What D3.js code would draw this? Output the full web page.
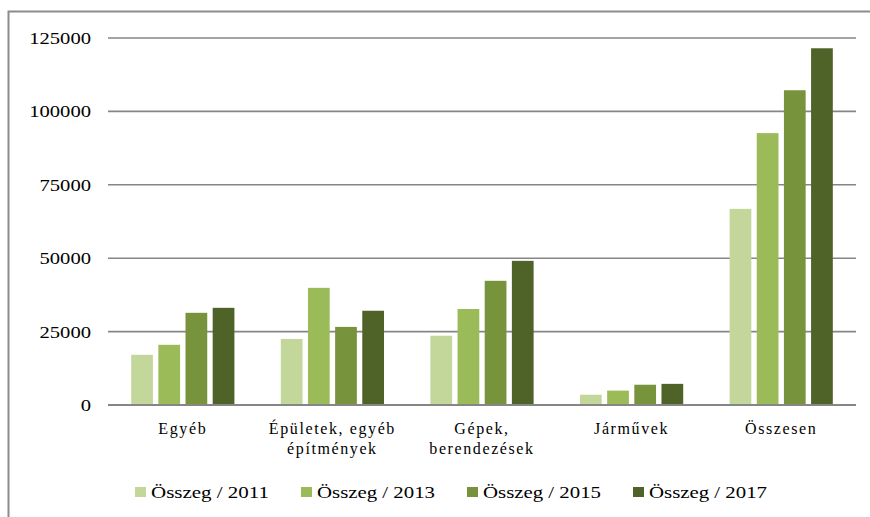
<!DOCTYPE html>
<html>
<head>
    <meta charset="UTF-8">
    <title>Összeg</title>
    <script src="https://d3js.org/d3.v7.min.js"></script>
    <style type="text/css">
        body { margin: 0; background: #fff; }
    </style>
</head>
<body>
    <svg id="chart"></svg>

    <script>
        // data
        const categories = ["Egyéb", "Épületek, egyéb építmények", "Gépek, berendezések", "Járművek", "Összesen"];
        // labels are wrapped over two lines like in the original
        const category_lines = [["Egyéb"], ["Épületek, egyéb", "építmények"], ["Gépek,", "berendezések"], ["Járművek"], ["Összesen"]];
        const series = ["Összeg / 2011", "Összeg / 2013", "Összeg / 2015", "Összeg / 2017"];
        const values_2011 = [17100, 22500, 23600, 3500, 66800];
        const values_2013 = [20500, 39900, 32700, 4900, 92600];
        const values_2015 = [31400, 26600, 42300, 6900, 107200];
        const values_2017 = [33100, 32100, 49100, 7200, 121500];
        const y_ticks = [0, 25000, 50000, 75000, 100000, 125000];
        const colors = ["#c4d79b", "#9bbb59", "#77933c", "#4f6228"];

        const all_values = [values_2011, values_2013, values_2015, values_2017];

        const WIDTH = 870;
        const HEIGHT = 517;
        const FONT = "'Liberation Serif', 'DejaVu Serif', 'Times New Roman', serif";
        const margins = {top: 38, bottom: 112, left: 108, right: 14};

        const svg = d3.select("#chart")
            .attr("width", WIDTH)
            .attr("height", HEIGHT)
            .attr("font-family", FONT);

        // outer frame (only left and top edges are in the picture)
        svg.append("path")
            .attr("d", `M8.5,${HEIGHT} L8.5,11.5 L${WIDTH},11.5`)
            .style("fill", "none")
            .style("stroke", "#8c8c8c")
            .style("stroke-width", 2);

        const x0 = d3.scaleBand()
            .domain(categories)
            .range([margins.left, WIDTH - margins.right])
            .paddingInner(0.31)
            .paddingOuter(0.155);

        const x1 = d3.scaleBand()
            .domain(series)
            .range([0, x0.bandwidth()])
            .paddingInner(0.2);

        const y = d3.scaleLinear()
            .domain([0, 125000])
            .range([HEIGHT - margins.bottom, margins.top]);

        //---------grid lines-----------
        svg.append("g")
            .selectAll("line")
            .data(y_ticks)
            .enter().append("line")
            .attr("x1", margins.left)
            .attr("x2", WIDTH - margins.right)
            .attr("y1", (d) => y(d))
            .attr("y2", (d) => y(d))
            .style("stroke", "#868686")
            .style("stroke-width", (d) => d == 0 ? 2.2 : 1.6);

        // tick labels
        svg.append("g")
            .selectAll("text")
            .data(y_ticks)
            .enter().append("text")
            .attr("x", 91)
            .attr("y", (d) => y(d) + 6)
            .attr("font-family", FONT)
            .style("text-anchor", "end")
            .style("font-size", "17px")
            .attr("textLength", (d) => String(d).length * 10.3)
            .attr("lengthAdjust", "spacingAndGlyphs")
            .text((d) => d);

        //---------bars-----------
        const groups = svg.append("g")
            .selectAll("g")
            .data(categories)
            .enter().append("g")
            .attr("transform", (d) => `translate(${x0(d)},0)`);

        groups.selectAll("rect")
            .data((d, i) => series.map((s, j) => ({s: s, j: j, v: all_values[j][i]})))
            .enter().append("rect")
            .attr("x", (d) => x1(d.s))
            .attr("y", (d) => y(d.v))
            .attr("width", x1.bandwidth())
            .attr("height", (d) => y(0) - y(d.v))
            .style("fill", (d) => colors[d.j]);

        // redraw baseline over the bars
        svg.append("line")
            .attr("x1", margins.left)
            .attr("x2", WIDTH - margins.right)
            .attr("y1", y(0))
            .attr("y2", y(0))
            .style("stroke", "#868686")
            .style("stroke-width", 2.2);

        //---------category labels-----------
        const cat_labels = svg.append("g")
            .selectAll("text")
            .data(categories)
            .enter().append("text")
            .attr("x", (d) => x0(d) + x0.bandwidth() / 2)
            .attr("y", 434)
            .attr("font-family", FONT)
            .style("text-anchor", "middle")
            .style("font-size", "16px")
            .style("letter-spacing", "1.6px");

        cat_labels.selectAll("tspan")
            .data((d, i) => category_lines[i])
            .enter().append("tspan")
            .attr("x", function() { return this.parentNode.getAttribute("x"); })
            .attr("dy", (d, i) => i == 0 ? 0 : 20)
            .text((d) => d);

        //---------legend-----------
        const legend_x = d3.scaleBand()
            .domain(series)
            .range([135, 135 + 4 * 166]);

        const legend = svg.append("g")
            .selectAll("g")
            .data(series)
            .enter().append("g")
            .attr("transform", (d) => `translate(${legend_x(d)},0)`);

        legend.append("rect")
            .attr("x", 0)
            .attr("y", 487)
            .attr("width", 11)
            .attr("height", 10)
            .style("fill", (d, i) => colors[i]);

        legend.append("text")
            .attr("x", 16)
            .attr("y", 498)
            .attr("font-family", FONT)
            .style("font-size", "17px")
            .attr("textLength", 118)
            .attr("lengthAdjust", "spacingAndGlyphs")
            .text((d) => d);
    </script>
</body>
</html>
